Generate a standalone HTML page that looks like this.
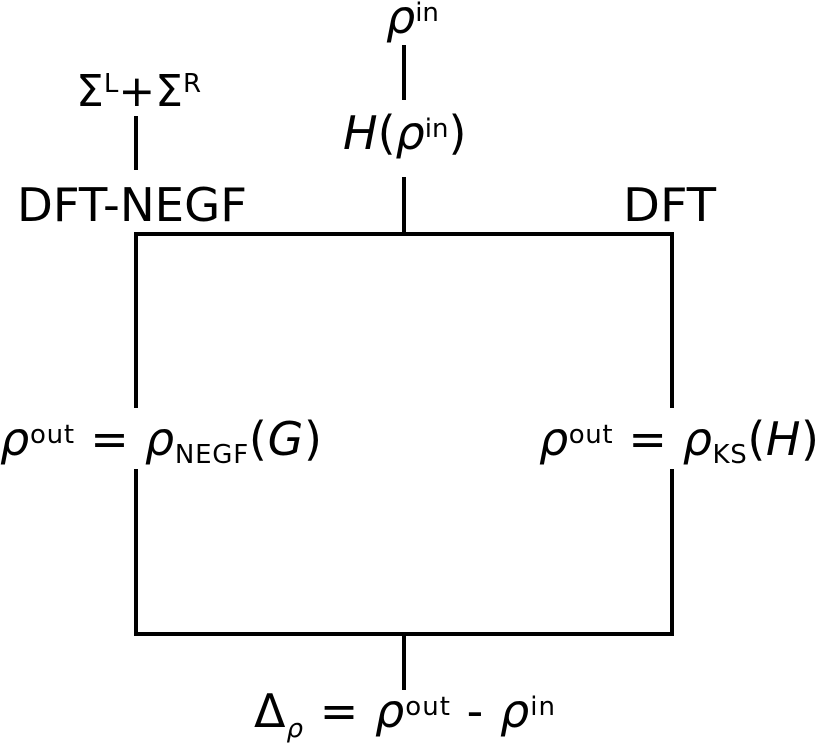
<!DOCTYPE html>
<html><head><meta charset="utf-8"><style>
html,body{margin:0;padding:0;background:#fff;}
svg{display:block;}
text{font-family:"DejaVu Sans","Liberation Sans",sans-serif;fill:#000;}
.i{font-style:italic;}
</style></head><body>
<svg width="821" height="749" viewBox="0 0 821 749" xmlns="http://www.w3.org/2000/svg">
<g stroke="#000" stroke-width="4" fill="none" stroke-linecap="butt">
<polyline points="136,408 136,234 672,234 672,408"/>
<polyline points="136,469 136,634 672,634 672,469"/>
<line x1="404" y1="45" x2="404" y2="100"/>
<line x1="404" y1="177" x2="404" y2="234"/>
<line x1="136" y1="116" x2="136" y2="170"/>
<line x1="404" y1="634" x2="404" y2="690"/>
</g>
<text x="386" y="33" font-size="46"><tspan class="i">ρ</tspan><tspan font-size="26" dy="-12">in</tspan></text>
<text x="343" y="149" font-size="46"><tspan class="i">H</tspan>(<tspan class="i">ρ</tspan><tspan font-size="26" dy="-12">in</tspan><tspan dy="12">)</tspan></text>
<text x="76" y="106" font-size="44">Σ<tspan font-size="26" dy="-14">L</tspan><tspan dy="14">+Σ</tspan><tspan font-size="26" dy="-14">R</tspan></text>
<text x="17" y="221" font-size="46" textLength="230" lengthAdjust="spacingAndGlyphs">DFT-NEGF</text>
<text x="623" y="221" font-size="46" textLength="93" lengthAdjust="spacingAndGlyphs">DFT</text>
<text x="0" y="455" font-size="46" textLength="322" lengthAdjust="spacing"><tspan class="i">ρ</tspan><tspan font-size="26" dy="-12">out</tspan><tspan dy="12"> = </tspan><tspan class="i">ρ</tspan><tspan font-size="26" dy="8">NEGF</tspan><tspan dy="-8">(</tspan><tspan class="i">G</tspan>)</text>
<text x="539" y="455" font-size="46" textLength="280" lengthAdjust="spacing"><tspan class="i">ρ</tspan><tspan font-size="26" dy="-12">out</tspan><tspan dy="12"> = </tspan><tspan class="i">ρ</tspan><tspan font-size="26" dy="8">KS</tspan><tspan dy="-8">(</tspan><tspan class="i">H</tspan>)</text>
<text x="254" y="727" font-size="46" textLength="301" lengthAdjust="spacing">Δ<tspan font-size="26" dy="10" class="i">ρ</tspan><tspan dy="-10"> = </tspan><tspan class="i">ρ</tspan><tspan font-size="26" dy="-12">out</tspan><tspan dy="12"> - </tspan><tspan class="i">ρ</tspan><tspan font-size="26" dy="-12">in</tspan></text>
</svg>
</body></html>
